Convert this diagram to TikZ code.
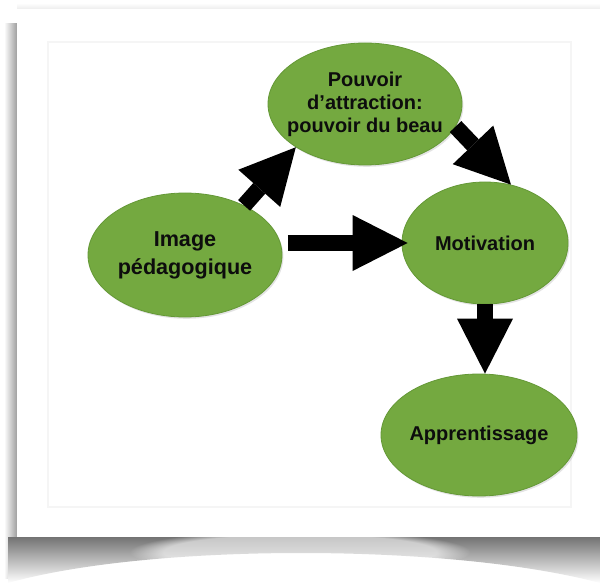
\documentclass[tikz,border=0pt]{standalone}
\usepackage{fontspec}
\setmainfont{Liberation Sans}
\usetikzlibrary{arrows.meta,shapes.geometric,shadows,calc,fadings}
\definecolor{leaf}{RGB}{116,169,64}
\definecolor{leafdark}{RGB}{100,152,54}
\tikzset{
 bubble/.style={ellipse, fill=leaf, draw=leafdark, line width=0.4pt, inner sep=0pt,
   drop shadow={opacity=0.22, shadow xshift=0.7pt, shadow yshift=-0.9pt}},
 lbl/.style={font=\fontsize{10pt}{11.5pt}\selectfont\bfseries, align=center, text=black!95, inner sep=0pt},
 biglbl/.style={lbl, font=\fontsize{10.8pt}{14pt}\selectfont\bfseries},
 blockarrow/.style={draw=black, line width=8pt,
   -{Triangle[length=27.5pt, width=28pt, line width=0pt]}},
}
\begin{document}
\begin{tikzpicture}[x=0.5pt,y=-0.5pt]
\useasboundingbox (0,0) rectangle (600,583);
% card shadows
\shade[left color=white, right color=black!38] (4,24) rectangle (17,578);
\shade[top color=black!55, bottom color=white]
  (8,537) -- (600,537) -- (600,583) .. controls (450,543) and (150,543) .. (8,583) -- cycle;
\fill[white, opacity=0.6, path fading=circle with fuzzy edge 20 percent] (300,552) ellipse (170 and 22);
\shade[top color=white, bottom color=black!7] (17,3) rectangle (600,9);
% card
\fill[white] (17,9) rectangle (600,537);
% inner panel
\draw[black!4, line width=0.8pt] (48,42) rectangle (571,507);

% nodes
\node[bubble, minimum width=97pt, minimum height=62pt] (img) at (185,255) {};
\node[bubble, minimum width=97pt, minimum height=61pt] (pouv) at (365,104) {};
\node[bubble, minimum width=83pt, minimum height=61pt] (mot) at (485,243) {};
\node[bubble, minimum width=98pt, minimum height=61pt] (app) at (479,435) {};

\node[biglbl] (imgT) at (img) {Image\\pédagogique};
\node[lbl] (pouvT) at (pouv) {Pouvoir\\d’attraction:\\pouvoir du beau};
\node[lbl] (motT) at (mot) {Motivation};
\node[lbl] (appT) at (app) {Apprentissage};

% connectors
\draw[blockarrow] (img.40) -- (pouv.212);
\draw[blockarrow, shorten <=2.75pt, shorten >=-3pt] (img.east |- mot.west) -- (mot.west);
\draw[blockarrow] (pouv.-14) -- (mot.66);
\draw[blockarrow] (mot.south) -- (mot.south |- app.north);
\end{tikzpicture}
\end{document}
